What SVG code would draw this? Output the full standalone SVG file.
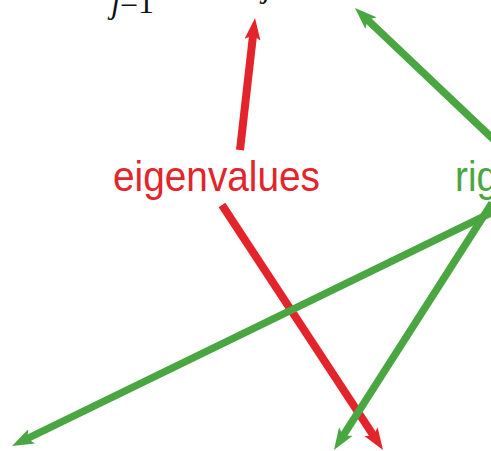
<svg xmlns="http://www.w3.org/2000/svg" width="491" height="451" viewBox="0 0 491 451">
<style>
.red{stroke:#e3242b;fill:none;stroke-width:8}
.grn{stroke:#4aa640;fill:none;stroke-width:7.5}
.lbl{font-family:"Liberation Sans",Arial,sans-serif;font-size:42px}
.math{font-family:"Liberation Serif","Times New Roman",serif;font-style:italic;font-size:32px;fill:#111}
</style>
<defs>
<marker id="hr" viewBox="0 0 22 16" refX="6" refY="8" markerWidth="22" markerHeight="16" markerUnits="userSpaceOnUse" orient="auto">
<path d="M0,0 L22,8 L0,16 L5,8 z" fill="#e3242b"/>
</marker>
<marker id="hg" viewBox="0 0 22 16" refX="6" refY="8" markerWidth="22" markerHeight="16" markerUnits="userSpaceOnUse" orient="auto">
<path d="M0,0 L22,8 L0,16 L5,8 z" fill="#4aa640"/>
</marker>
</defs>
<rect width="491" height="451" fill="#fff"/>
<g id="formula">
<text class="math" x="111" y="13">j<tspan font-style="normal">=1</tspan></text>
<text class="math" x="263" y="-3">j</text>
</g>
<g id="connectors">
<line class="red" x1="240" y1="150" x2="253.2" y2="33.9" marker-end="url(#hr)"/>
<line class="grn" x1="500" y1="145.5" x2="366.6" y2="19" marker-end="url(#hg)"/>
<line class="red" x1="222" y1="205" x2="374.2" y2="436.6" marker-end="url(#hr)"/>
<line class="grn" x1="495" y1="211" x2="26.4" y2="439" marker-end="url(#hg)"/>
<line class="grn" x1="492" y1="203" x2="342.6" y2="436.5" marker-end="url(#hg)"/>
</g>
<g id="eigenvalues">
<text class="lbl" x="113" y="191" fill="#e3242b" textLength="207" lengthAdjust="spacingAndGlyphs">eigenvalues</text>
</g>
<g id="right-label">
<text class="lbl" x="455" y="191" fill="#4aa640" textLength="43" lengthAdjust="spacingAndGlyphs">rig</text>
</g>
</svg>
